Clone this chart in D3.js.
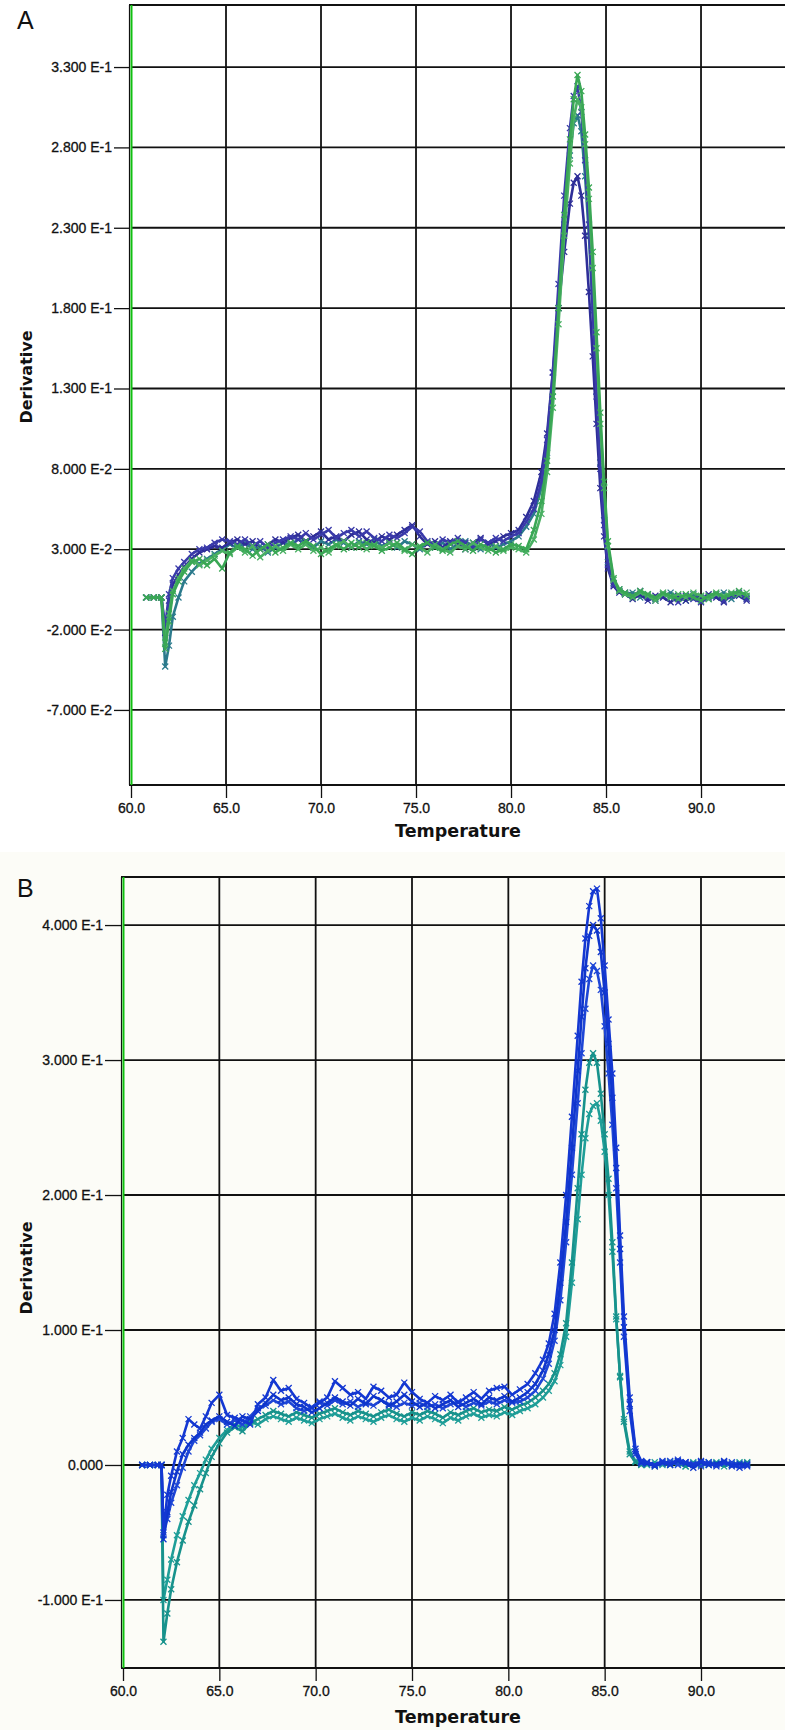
<!DOCTYPE html>
<html>
<head>
<meta charset="utf-8">
<script src="https://cdn.jsdelivr.net/npm/d3@7"></script>
<style>
  html, body { margin: 0; padding: 0; background: #fff; }
  svg { display: block; }
  .tick text { font-family: "Liberation Sans", Arial, sans-serif; font-size: 14px; fill: #111; stroke: #111; stroke-width: 0.3; }
  .tick line { stroke: #111; stroke-width: 1.3; }
  .ttl { font-family: "DejaVu Sans", sans-serif; font-weight: bold; fill: #111; }
  .letter { font-family: "Liberation Sans", Arial, sans-serif; fill: #111; }
</style>
</head>
<body>
<svg id="chart" width="785" height="1730"></svg>
<script>
// ---- data ----
const xTicks = [60, 65, 70, 75, 80, 85, 90];
const xLabels = ["60.0", "65.0", "70.0", "75.0", "80.0", "85.0", "90.0"];

const yTicksA = [-0.07, -0.02, 0.03, 0.08, 0.13, 0.18, 0.23, 0.28, 0.33];
const yLabelsA = ["-7.000 E-2", "-2.000 E-2", "3.000 E-2", "8.000 E-2", "1.300 E-1", "1.800 E-1", "2.300 E-1", "2.800 E-1", "3.300 E-1"];

const yTicksB = [-0.1, 0, 0.1, 0.2, 0.3, 0.4];
const yLabelsB = ["-1.000 E-1", "0.000", "1.000 E-1", "2.000 E-1", "3.000 E-1", "4.000 E-1"];

const tempsA = [
  60.8, 61.2, 61.6, 61.8, 62.0, 62.2, 62.5, 62.8, 63.2, 63.6,
  64.0, 64.4, 64.8, 65.2, 65.6, 66.0, 66.4, 66.8, 67.2, 67.6,
  68.0, 68.4, 68.8, 69.2, 69.6, 70.0, 70.4, 70.8, 71.2, 71.6,
  72.0, 72.4, 72.8, 73.2, 73.6, 74.0, 74.4, 74.8, 75.2, 75.6,
  76.0, 76.4, 76.8, 77.2, 77.6, 78.0, 78.4, 78.8, 79.2, 79.6,
  80.0, 80.4, 80.8, 81.2, 81.6, 81.9, 82.2, 82.5, 82.8, 83.1,
  83.3, 83.5, 83.7, 83.9, 84.1, 84.3, 84.5, 84.7, 84.9, 85.1,
  85.4, 85.7, 86.0, 86.4, 86.8, 87.2, 87.6, 88.0, 88.4, 88.8,
  89.2, 89.6, 90.0, 90.4, 90.8, 91.2, 91.6, 92.0, 92.4
];
const blueA1 = [
  0.000, 0.000, 0.000, -0.018, 0.002, 0.012, 0.018, 0.022, 0.027, 0.030,
  0.031, 0.034, 0.036, 0.035, 0.033, 0.036, 0.032, 0.035, 0.031, 0.034,
  0.036, 0.038, 0.036, 0.040, 0.036, 0.039, 0.042, 0.037, 0.040, 0.042,
  0.038, 0.041, 0.037, 0.035, 0.039, 0.037, 0.040, 0.044, 0.041, 0.035,
  0.032, 0.036, 0.034, 0.037, 0.034, 0.031, 0.036, 0.034, 0.037, 0.035,
  0.038, 0.040, 0.047, 0.055, 0.072, 0.098, 0.140, 0.195, 0.250, 0.292,
  0.312, 0.318, 0.302, 0.272, 0.232, 0.180, 0.125, 0.080, 0.045, 0.020,
  0.008, 0.004, 0.003, 0.001, 0.004, 0.000, -0.002, 0.002, 0.000, -0.003,
  0.001, -0.001, -0.003, 0.000, 0.002, -0.002, 0.001, 0.003, -0.001
];
const blueA2 = [
  0.000, 0.000, 0.000, -0.022, -0.002, 0.008, 0.014, 0.019, 0.024, 0.028,
  0.030, 0.032, 0.031, 0.034, 0.036, 0.033, 0.035, 0.030, 0.033, 0.036,
  0.034, 0.037, 0.039, 0.035, 0.038, 0.041, 0.036, 0.038, 0.035, 0.039,
  0.041, 0.036, 0.034, 0.038, 0.036, 0.039, 0.042, 0.045, 0.038, 0.033,
  0.035, 0.031, 0.035, 0.033, 0.030, 0.034, 0.037, 0.033, 0.035, 0.038,
  0.040, 0.042, 0.050, 0.060, 0.078, 0.102, 0.140, 0.180, 0.215, 0.245,
  0.258, 0.262, 0.250, 0.225, 0.190, 0.150, 0.108, 0.068, 0.038, 0.018,
  0.007, 0.003, 0.002, -0.001, 0.002, -0.002, 0.001, 0.000, -0.003, 0.001,
  -0.002, 0.000, -0.001, 0.002, 0.000, -0.003, 0.002, 0.001, -0.002
];
const tealA = [
  0.000, 0.000, 0.000, -0.043, -0.030, -0.012, 0.000, 0.010, 0.016, 0.021,
  0.024, 0.027, 0.030, 0.033, 0.031, 0.034, 0.030, 0.032, 0.028, 0.031,
  0.034, 0.033, 0.036, 0.034, 0.031, 0.035, 0.033, 0.036, 0.034, 0.031,
  0.035, 0.033, 0.036, 0.032, 0.034, 0.031, 0.035, 0.033, 0.030, 0.034,
  0.031, 0.034, 0.030, 0.033, 0.035, 0.032, 0.030, 0.034, 0.031, 0.033,
  0.035, 0.038, 0.044, 0.052, 0.068, 0.090, 0.128, 0.180, 0.232, 0.275,
  0.295, 0.300, 0.290, 0.262, 0.225, 0.178, 0.128, 0.084, 0.048, 0.022,
  0.009, 0.005, 0.002, 0.003, 0.000, 0.002, -0.001, 0.001, 0.003, 0.000,
  -0.002, 0.002, 0.000, -0.001, 0.001, 0.003, -0.001, 0.002, 0.000
];
const greenA1 = [
  0.000, 0.000, 0.000, -0.032, -0.015, 0.002, 0.010, 0.016, 0.022, 0.024,
  0.020, 0.024, 0.018, 0.028, 0.032, 0.030, 0.026, 0.030, 0.033, 0.028,
  0.031, 0.034, 0.032, 0.035, 0.032, 0.027, 0.030, 0.033, 0.030, 0.034,
  0.031, 0.034, 0.032, 0.029, 0.031, 0.034, 0.030, 0.027, 0.032, 0.034,
  0.031, 0.029, 0.033, 0.035, 0.032, 0.029, 0.033, 0.031, 0.028, 0.030,
  0.033, 0.032, 0.030, 0.042, 0.060, 0.085, 0.125, 0.180, 0.238, 0.285,
  0.310, 0.325, 0.315, 0.288, 0.255, 0.215, 0.165, 0.115, 0.072, 0.035,
  0.012, 0.005, 0.003, 0.001, 0.004, 0.002, 0.000, 0.003, 0.001, -0.001,
  0.002, 0.000, -0.002, 0.001, 0.003, 0.000, 0.002, 0.004, 0.001
];
const greenA2 = [
  0.000, 0.000, 0.000, -0.028, -0.010, 0.004, 0.012, 0.018, 0.023, 0.020,
  0.023, 0.026, 0.029, 0.027, 0.031, 0.028, 0.032, 0.025, 0.029, 0.032,
  0.029, 0.033, 0.030, 0.033, 0.029, 0.031, 0.028, 0.032, 0.035, 0.031,
  0.034, 0.030, 0.033, 0.031, 0.034, 0.032, 0.029, 0.033, 0.031, 0.028,
  0.033, 0.030, 0.028, 0.032, 0.030, 0.034, 0.031, 0.029, 0.032, 0.029,
  0.031, 0.030, 0.028, 0.036, 0.052, 0.078, 0.118, 0.170, 0.225, 0.270,
  0.298, 0.310, 0.305, 0.282, 0.248, 0.205, 0.155, 0.108, 0.068, 0.032,
  0.011, 0.004, 0.002, 0.000, 0.003, 0.001, -0.002, 0.002, 0.000, 0.002,
  0.000, 0.003, 0.001, -0.001, 0.002, 0.001, 0.003, 0.002, 0.003
];

const tempsB = [
  61.0, 61.4, 61.8, 62.0, 62.1, 62.3, 62.5, 62.8, 63.1, 63.4,
  63.7, 64.0, 64.3, 64.6, 65.0, 65.4, 65.8, 66.2, 66.6, 67.0,
  67.4, 67.8, 68.2, 68.6, 69.0, 69.4, 69.8, 70.2, 70.6, 71.0,
  71.4, 71.8, 72.2, 72.6, 73.0, 73.4, 73.8, 74.2, 74.6, 75.0,
  75.4, 75.8, 76.2, 76.6, 77.0, 77.4, 77.8, 78.2, 78.6, 79.0,
  79.4, 79.8, 80.2, 80.6, 81.0, 81.4, 81.8, 82.1, 82.4, 82.7,
  83.0, 83.3, 83.6, 83.8, 84.0, 84.2, 84.4, 84.6, 84.8, 85.0,
  85.2, 85.4, 85.6, 85.8, 86.0, 86.3, 86.6, 86.9, 87.2, 87.6,
  88.0, 88.4, 88.8, 89.2, 89.6, 90.0, 90.4, 90.8, 91.2, 91.6,
  92.0, 92.4
];
const blueB1 = [
  0.000, 0.000, 0.000, 0.000, -0.050, -0.022, -0.008, 0.010, 0.020, 0.034,
  0.030, 0.027, 0.036, 0.046, 0.052, 0.037, 0.035, 0.033, 0.030, 0.045,
  0.050, 0.063, 0.055, 0.057, 0.049, 0.046, 0.042, 0.046, 0.050, 0.062,
  0.057, 0.052, 0.054, 0.049, 0.058, 0.055, 0.050, 0.052, 0.061, 0.054,
  0.049, 0.046, 0.051, 0.048, 0.052, 0.046, 0.050, 0.054, 0.049, 0.055,
  0.057, 0.058, 0.052, 0.056, 0.060, 0.068, 0.078, 0.090, 0.112, 0.150,
  0.200, 0.258, 0.318, 0.358, 0.390, 0.414, 0.425, 0.427, 0.405, 0.370,
  0.330, 0.290, 0.235, 0.170, 0.110, 0.050, 0.012, 0.003, 0.002, 0.000,
  0.003, 0.001, 0.004, 0.002, 0.000, 0.003, 0.001, -0.001, 0.002, 0.000,
  -0.002, -0.001
];
const blueB2 = [
  0.000, 0.000, 0.000, 0.000, -0.055, -0.035, -0.020, -0.005, 0.008, 0.015,
  0.020, 0.024, 0.030, 0.033, 0.036, 0.032, 0.029, 0.036, 0.034, 0.040,
  0.046, 0.052, 0.048, 0.050, 0.045, 0.043, 0.039, 0.042, 0.046, 0.050,
  0.047, 0.044, 0.049, 0.045, 0.051, 0.048, 0.044, 0.047, 0.052, 0.047,
  0.043, 0.046, 0.042, 0.045, 0.048, 0.043, 0.046, 0.049, 0.045, 0.050,
  0.048, 0.051, 0.047, 0.050, 0.054, 0.060, 0.070, 0.082, 0.100, 0.135,
  0.180, 0.235, 0.292, 0.332, 0.368, 0.392, 0.400, 0.396, 0.380, 0.350,
  0.312, 0.272, 0.220, 0.160, 0.102, 0.045, 0.010, 0.002, 0.001, -0.001,
  0.002, 0.000, 0.003, 0.001, -0.002, 0.002, 0.000, 0.001, 0.003, -0.001,
  0.001, 0.000
];
const blueB3 = [
  0.000, 0.000, 0.000, 0.000, -0.052, -0.040, -0.028, -0.015, -0.002, 0.010,
  0.018, 0.022, 0.027, 0.032, 0.034, 0.030, 0.033, 0.030, 0.036, 0.042,
  0.044, 0.048, 0.045, 0.047, 0.042, 0.040, 0.043, 0.047, 0.044, 0.048,
  0.045, 0.047, 0.043, 0.046, 0.044, 0.048, 0.045, 0.043, 0.046, 0.044,
  0.046, 0.043, 0.045, 0.042, 0.045, 0.047, 0.043, 0.046, 0.044, 0.047,
  0.045, 0.048, 0.046, 0.047, 0.050, 0.055, 0.064, 0.075, 0.092, 0.122,
  0.165, 0.215, 0.268, 0.305, 0.338, 0.360, 0.370, 0.366, 0.352, 0.325,
  0.290, 0.252, 0.205, 0.150, 0.095, 0.040, 0.008, 0.001, 0.002, 0.000,
  0.001, 0.003, 0.000, 0.002, 0.001, -0.001, 0.002, 0.000, 0.001, 0.002,
  0.000, 0.001
];
const tealB1 = [
  0.000, 0.000, 0.000, 0.000, -0.131, -0.110, -0.092, -0.072, -0.056, -0.042,
  -0.030, -0.018, -0.006, 0.006, 0.016, 0.024, 0.028, 0.025, 0.031, 0.034,
  0.037, 0.040, 0.038, 0.036, 0.039, 0.037, 0.035, 0.038, 0.040, 0.042,
  0.039, 0.037, 0.040, 0.038, 0.036, 0.039, 0.041, 0.038, 0.036, 0.039,
  0.037, 0.040, 0.038, 0.035, 0.039, 0.037, 0.040, 0.042, 0.039, 0.041,
  0.040, 0.043, 0.041, 0.044, 0.046, 0.050, 0.055, 0.060, 0.068, 0.082,
  0.105, 0.150, 0.205, 0.245, 0.278, 0.298, 0.305, 0.298, 0.275, 0.245,
  0.212, 0.165, 0.110, 0.065, 0.032, 0.008, 0.002, 0.000, 0.002, -0.001,
  0.001, 0.000, 0.002, -0.001, 0.001, 0.000, 0.002, 0.001, -0.001, 0.001,
  0.000, 0.002
];
const tealB2 = [
  0.000, 0.000, 0.000, 0.000, -0.100, -0.085, -0.070, -0.052, -0.038, -0.026,
  -0.015, -0.006, 0.004, 0.012, 0.020, 0.026, 0.030, 0.028, 0.032, 0.030,
  0.034, 0.036, 0.034, 0.032, 0.035, 0.033, 0.031, 0.034, 0.036, 0.038,
  0.035, 0.033, 0.036, 0.034, 0.032, 0.035, 0.037, 0.034, 0.032, 0.035,
  0.033, 0.036, 0.034, 0.031, 0.035, 0.033, 0.036, 0.038, 0.035, 0.037,
  0.036, 0.039, 0.037, 0.040, 0.042, 0.045, 0.050, 0.055, 0.062, 0.074,
  0.095, 0.135, 0.182, 0.215, 0.242, 0.260, 0.266, 0.268, 0.255, 0.232,
  0.200, 0.158, 0.108, 0.066, 0.034, 0.010, 0.003, 0.001, 0.000, 0.002,
  0.000, 0.002, 0.001, -0.001, 0.002, 0.001, 0.000, 0.002, 0.001, 0.000,
  0.002, 0.001
];

const svg = d3.select("#chart");

// off-white backing of the lower scan
svg.append("rect").attr("x", 0).attr("y", 0).attr("width", 785).attr("height", 852).attr("fill", "#ffffff");
svg.append("rect").attr("x", 0).attr("y", 852).attr("width", 785).attr("height", 878).attr("fill", "#fcfcf7");

function drawPanel(p) {
  const g = svg.append("g");
  const x = d3.scaleLinear().domain(p.xDomain).range([p.left, 785]);
  const y = d3.scaleLinear().domain(p.yDomain).range([p.bottom, p.top]);

  // grid
  g.selectAll(".hg").data(p.yTicks).join("line")
    .attr("x1", p.left).attr("x2", 785)
    .attr("y1", (d) => y(d)).attr("y2", (d) => y(d))
    .attr("stroke", "#111").attr("stroke-width", 1.8);
  g.selectAll(".vg").data(xTicks.slice(1)).join("line")
    .attr("x1", (d) => x(d)).attr("x2", (d) => x(d))
    .attr("y1", p.top).attr("y2", p.bottom)
    .attr("stroke", "#111").attr("stroke-width", 1.8);

  // frame: top, bottom, left (black + green)
  g.append("line").attr("x1", p.left - 2).attr("x2", 785).attr("y1", p.top).attr("y2", p.top)
    .attr("stroke", "#111").attr("stroke-width", 1.8);
  g.append("line").attr("x1", p.left - 2).attr("x2", 785).attr("y1", p.bottom).attr("y2", p.bottom)
    .attr("stroke", "#111").attr("stroke-width", 1.8);
  g.append("line").attr("x1", p.left - 1.5).attr("x2", p.left - 1.5).attr("y1", p.top).attr("y2", p.bottom)
    .attr("stroke", "#111").attr("stroke-width", 1.2);
  g.append("line").attr("x1", p.left + 0.5).attr("x2", p.left + 0.5).attr("y1", p.top).attr("y2", p.bottom)
    .attr("stroke", "#10c010").attr("stroke-width", 2);

  // axes
  const ya = d3.axisLeft(y).tickValues(p.yTicks).tickFormat((d, i) => p.yLabels[i])
    .tickSize(p.yTick).tickPadding(2);
  g.append("g").attr("transform", `translate(${p.left - 2},0)`).call(ya)
    .call((s) => s.select(".domain").remove());
  const xa = d3.axisBottom(x).tickValues(xTicks).tickFormat((d, i) => xLabels[i])
    .tickSize(13).tickPadding(p.xPad);
  g.append("g").attr("transform", `translate(0,${p.bottom})`).call(xa)
    .call((s) => s.select(".domain").remove());

  // titles
  g.append("text").attr("class", "ttl").attr("x", 458).attr("y", p.xTitleY)
    .attr("text-anchor", "middle").attr("font-size", 17.5).text("Temperature");
  g.append("text").attr("class", "ttl")
    .attr("transform", `translate(32,${p.yTitleY}) rotate(-90)`)
    .attr("text-anchor", "middle").attr("font-size", 16).text("Derivative");
  g.append("text").attr("class", "letter").attr("x", 17).attr("y", p.letterY)
    .attr("font-size", 25).text(p.letter);

  // curves with x markers
  const line = d3.line().x((d) => x(d[0])).y((d) => y(d[1]));
  p.series.forEach((s) => {
    const pts = p.temps.map((t, i) => [t, s.values[i]]).filter((d) => d[1] !== undefined);
    g.append("path").datum(pts).attr("d", line)
      .attr("fill", "none").attr("stroke", s.color).attr("stroke-width", 2.6)
      .attr("stroke-linejoin", "round");
    g.append("g").selectAll("path").data(pts).join("path")
      .attr("d", (d) => `M${x(d[0]) - 3},${y(d[1]) - 3}l6,6m0,-6l-6,6`)
      .attr("stroke", s.color).attr("stroke-width", 1.3).attr("fill", "none");
  });
}

drawPanel({
  letter: "A", letterY: 29,
  left: 131, top: 5, bottom: 785,
  xDomain: [60, 94.42], yDomain: [-0.1167, 0.3686],
  yTicks: yTicksA, yLabels: yLabelsA, yTick: 15, xPad: 5,
  xTitleY: 837, yTitleY: 377,
  temps: tempsA,
  series: [
    { values: tealA, color: "#2b7a8c" },
    { values: blueA2, color: "#2e2e98" },
    { values: blueA1, color: "#3a3aaa" },
    { values: greenA2, color: "#4ab063" },
    { values: greenA1, color: "#3aa755" },
  ],
});

drawPanel({
  letter: "B", letterY: 897,
  left: 123, top: 877, bottom: 1668,
  xDomain: [60, 94.36], yDomain: [-0.1504, 0.4356],
  yTicks: yTicksB, yLabels: yLabelsB, yTick: 16, xPad: 5,
  xTitleY: 1723, yTitleY: 1268,
  temps: tempsB,
  series: [
    { values: tealB2, color: "#1f9e98" },
    { values: tealB1, color: "#17928c" },
    { values: blueB3, color: "#1e46d6" },
    { values: blueB2, color: "#0f36cc" },
    { values: blueB1, color: "#1438d2" },
  ],
});
</script>
</body>
</html>
